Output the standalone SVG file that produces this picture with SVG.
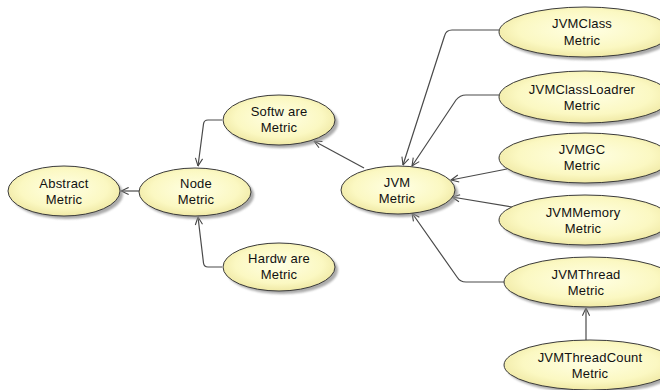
<svg xmlns="http://www.w3.org/2000/svg" width="660" height="390" viewBox="0 0 660 390">
  <defs>
    <radialGradient id="fill" cx="50%" cy="45%" r="60%">
      <stop offset="0%" stop-color="#ffffe4"/>
      <stop offset="65%" stop-color="#fbf8c2"/>
      <stop offset="100%" stop-color="#ece49c"/>
    </radialGradient>
    <filter id="shadow" x="-10%" y="-20%" width="130%" height="150%">
      <feGaussianBlur stdDeviation="1.2"/>
    </filter>
    <marker id="open" viewBox="0 0 10 10" refX="9.5" refY="5" markerWidth="9" markerHeight="9" orient="auto" markerUnits="userSpaceOnUse">
      <path d="M1,1 L9.5,5 L1,9" fill="none" stroke="#444" stroke-width="1.2"/>
    </marker>
  </defs>
  <style>
    .sh { fill: #8f8f8f; opacity: 0.75; filter: url(#shadow); }
    .el { fill: url(#fill); stroke: #3a3a3a; stroke-width: 1; }
    .t { font-family: "Liberation Sans", Arial, sans-serif; font-size: 13px; letter-spacing: 0.2px; fill: #111; text-anchor: middle; }
    .c { fill: none; stroke: #4a4a4a; stroke-width: 1.2; marker-end: url(#open); }
  </style>
  <rect width="660" height="390" fill="#ffffff"/>

  <g id="connectors">
    <path class="c" d="M139,191 L121,191"/>
    <path class="c" d="M222,120 L208,120 Q204,120 203.5,124 L198,166"/>
    <path class="c" d="M222,267 L208,267 Q204,267 203.5,263 L198,217"/>
    <path class="c" d="M364,168 L314,141"/>
    <path class="c" d="M502,30 L452,30 Q446,30 444.5,36 L403,165"/>
    <path class="c" d="M502,95 L466,95 Q460,95 456,100 L412,166"/>
    <path class="c" d="M507,169 L451,180"/>
    <path class="c" d="M512,207 L452,197"/>
    <path class="c" d="M507,282 L466,282 Q460,282 457,277 L412,213"/>
    <path class="c" d="M586,340 L586,308"/>
  </g>

  <g id="abstract-metric">
    <ellipse class="sh" cx="67" cy="194" rx="56" ry="25"/>
    <ellipse class="el" cx="64" cy="191" rx="56" ry="25"/>
    <text class="t" x="64" y="188">Abstract</text>
    <text class="t" x="64" y="204">Metric</text>
  </g>

  <g id="node-metric">
    <ellipse class="sh" cx="198" cy="195" rx="56" ry="24"/>
    <ellipse class="el" cx="195" cy="192" rx="56" ry="24"/>
    <text class="t" x="196" y="188">Node</text>
    <text class="t" x="196" y="204">Metric</text>
  </g>

  <g id="software-metric">
    <ellipse class="sh" cx="282" cy="123" rx="56" ry="25"/>
    <ellipse class="el" cx="279" cy="120" rx="56" ry="25"/>
    <text class="t" x="279" y="116">Softw are</text>
    <text class="t" x="279" y="132">Metric</text>
  </g>

  <g id="hardware-metric">
    <ellipse class="sh" cx="282" cy="270" rx="56" ry="24"/>
    <ellipse class="el" cx="279" cy="267" rx="56" ry="24"/>
    <text class="t" x="279" y="263">Hardw are</text>
    <text class="t" x="279" y="279">Metric</text>
  </g>

  <g id="jvm-metric">
    <ellipse class="sh" cx="401" cy="193" rx="57" ry="24"/>
    <ellipse class="el" cx="398" cy="190" rx="57" ry="24"/>
    <text class="t" x="397" y="187">JVM</text>
    <text class="t" x="397" y="203">Metric</text>
  </g>

  <g id="jvmclass-metric">
    <ellipse class="sh" cx="588" cy="35" rx="86" ry="25"/>
    <ellipse class="el" cx="585" cy="32" rx="86" ry="25"/>
    <text class="t" x="582" y="28">JVMClass</text>
    <text class="t" x="582" y="45">Metric</text>
  </g>

  <g id="jvmclassloader-metric">
    <ellipse class="sh" cx="588" cy="100" rx="86" ry="26"/>
    <ellipse class="el" cx="585" cy="97" rx="86" ry="26"/>
    <text class="t" x="582" y="94">JVMClassLoadrer</text>
    <text class="t" x="582" y="110">Metric</text>
  </g>

  <g id="jvmgc-metric">
    <ellipse class="sh" cx="588" cy="161" rx="86" ry="25"/>
    <ellipse class="el" cx="585" cy="158" rx="86" ry="25"/>
    <text class="t" x="582" y="154">JVMGC</text>
    <text class="t" x="582" y="170">Metric</text>
  </g>

  <g id="jvmmemory-metric">
    <ellipse class="sh" cx="588" cy="223" rx="86" ry="25"/>
    <ellipse class="el" cx="585" cy="220" rx="86" ry="25"/>
    <text class="t" x="583" y="217">JVMMemory</text>
    <text class="t" x="583" y="233">Metric</text>
  </g>

  <g id="jvmthread-metric">
    <ellipse class="sh" cx="593" cy="285" rx="86" ry="25"/>
    <ellipse class="el" cx="590" cy="282" rx="86" ry="25"/>
    <text class="t" x="586" y="279">JVMThread</text>
    <text class="t" x="586" y="295">Metric</text>
  </g>

  <g id="jvmthreadcount-metric">
    <ellipse class="sh" cx="593" cy="368" rx="86" ry="25"/>
    <ellipse class="el" cx="590" cy="365" rx="86" ry="25"/>
    <text class="t" x="590" y="362">JVMThreadCount</text>
    <text class="t" x="590" y="378">Metric</text>
  </g>
</svg>
